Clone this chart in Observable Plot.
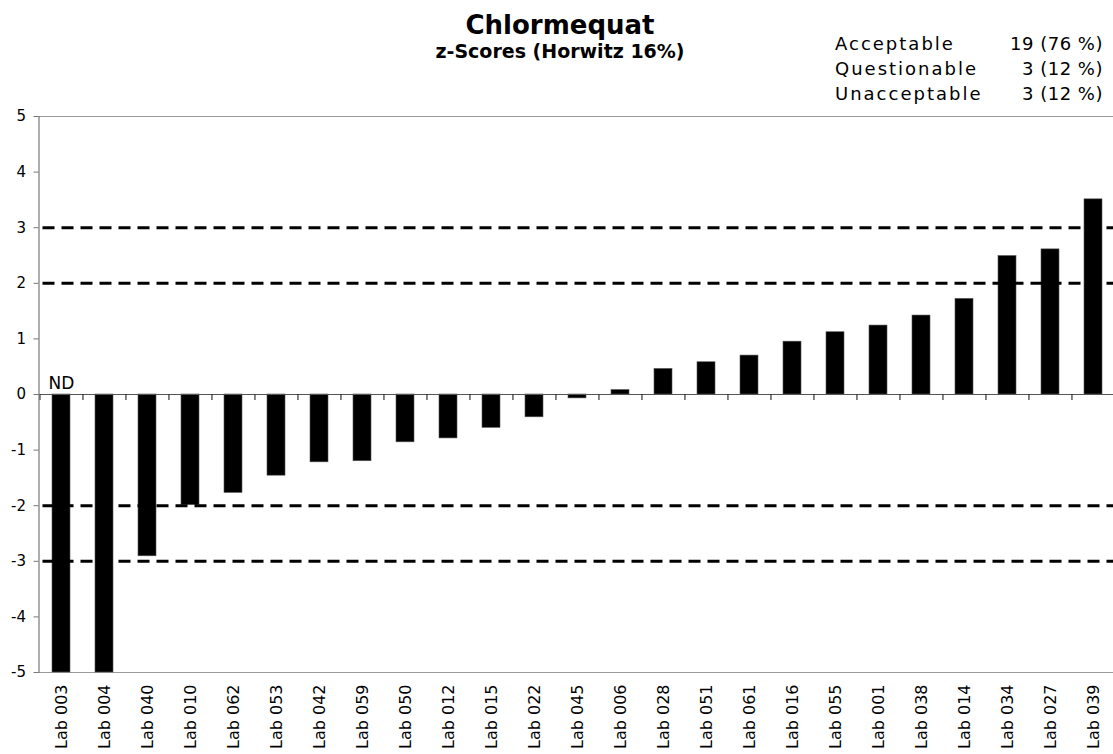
<!DOCTYPE html>
<html>
<head>
<meta charset="utf-8">
<script src="https://cdn.jsdelivr.net/npm/d3@7"></script>
<script src="https://cdn.jsdelivr.net/npm/@observablehq/plot@0.6"></script>
<style>
  html, body { margin: 0; padding: 0; background: #fff; overflow: hidden; }
  body { width: 1113px; height: 754px; font-family: "DejaVu Sans", sans-serif; }
  #header svg, #chart svg { display: block; }
</style>
</head>
<body>
<div id="header"></div>
<div id="chart"></div>
<script>
const titleText = "Chlormequat";
const subtitleText = "z-Scores (Horwitz 16%)";
const legendLabels = ["Acceptable", "Questionable", "Unacceptable"];
const legendCounts = [19, 3, 3];
const legendPercents = [76, 12, 12];

const labs = ["Lab 003", "Lab 004", "Lab 040", "Lab 010", "Lab 062", "Lab 053", "Lab 042", "Lab 059", "Lab 050", "Lab 012", "Lab 015", "Lab 022", "Lab 045", "Lab 006", "Lab 028", "Lab 051", "Lab 061", "Lab 016", "Lab 055", "Lab 001", "Lab 038", "Lab 014", "Lab 034", "Lab 027", "Lab 039"];
const zScores = [-5, -5, -2.91, -1.99, -1.77, -1.46, -1.22, -1.2, -0.86, -0.79, -0.6, -0.41, -0.07, 0.08, 0.46, 0.58, 0.7, 0.95, 1.12, 1.24, 1.42, 1.72, 2.49, 2.61, 3.51];
const notes = [{lab: "Lab 003", text: "ND"}];
const limitLines = [-3, -2, 2, 3];
const yTicks = [-5, -4, -3, -2, -1, 0, 1, 2, 3, 4, 5];
const yDomain = [-5, 5];

const data = labs.map((lab, i) => ({lab, z: zScores[i]}));

// Header (title, subtitle, summary legend)
const header = d3.select("#header").append("svg")
  .attr("width", 1113).attr("height", 110)
  .style("font-family", '"DejaVu Sans", sans-serif');
header.append("text").attr("x", 560).attr("y", 34).attr("text-anchor", "middle")
  .attr("font-size", 26).attr("font-weight", "bold").attr("fill", "#000").text(titleText);
header.append("text").attr("x", 560).attr("y", 58).attr("text-anchor", "middle")
  .attr("font-size", 19).attr("font-weight", "bold").attr("fill", "#000").text(subtitleText);
legendLabels.forEach((lab, i) => {
  const y = 50 + i * 25;
  header.append("text").attr("x", 835).attr("y", y).attr("font-size", 18)
    .attr("letter-spacing", "2px").attr("fill", "#000").text(lab);
  header.append("text").attr("x", 1103).attr("y", y).attr("font-size", 18)
    .attr("text-anchor", "end").attr("letter-spacing", "0.5px").attr("fill", "#000")
    .text(`${legendCounts[i]} (${legendPercents[i]} %)`);
});

// Chart
const W = 1116, mL = 38.5, mR = 0;
const step = (W - mL - mR) / labs.length;

const chart = Plot.plot({
  width: W,
  height: 644,
  marginLeft: mL,
  marginRight: mR,
  marginTop: 6,
  marginBottom: 82,
  style: {fontFamily: '"DejaVu Sans", sans-serif', color: "#000", background: "#fff", overflow: "visible"},
  x: {domain: labs, paddingInner: 0.58, paddingOuter: 0.29, axis: null},
  y: {domain: yDomain, axis: null},
  marks: [
    Plot.ruleY(yDomain, {stroke: "#9a9a9a", strokeWidth: 1}),
    Plot.barY(data, {x: "lab", y: "z", fill: "#000", stroke: "#555", strokeWidth: 0.6}),
    Plot.ruleY(limitLines, {stroke: "#000", strokeWidth: 3, strokeDasharray: "12,7", insetLeft: 4}),
    Plot.ruleY([0], {stroke: "#555", strokeWidth: 1.2}),
    Plot.ruleX(labs, {x: d => d, y1: 0, y2: -0.11, stroke: "#333", strokeWidth: 1.2, dx: -step / 2}),
    Plot.frame({anchor: "left", stroke: "#777", strokeWidth: 1.2}),
    Plot.axisY({ticks: yTicks, label: null, tickSize: 5, tickPadding: 8, fontSize: 15, stroke: "#777", tickFormat: d => String(d)}),
    Plot.axisX({domain: labs, label: null, anchor: "bottom", tickSize: 0, tickPadding: 12, tickRotate: -90, fontSize: 16}),
    Plot.text(notes, {x: "lab", y: 0, text: "text", dy: -6, lineAnchor: "bottom", fontSize: 17, fill: "#000"})
  ]
});
chart.style.maxWidth = "none";
document.getElementById("chart").appendChild(chart);
</script>
</body>
</html>
